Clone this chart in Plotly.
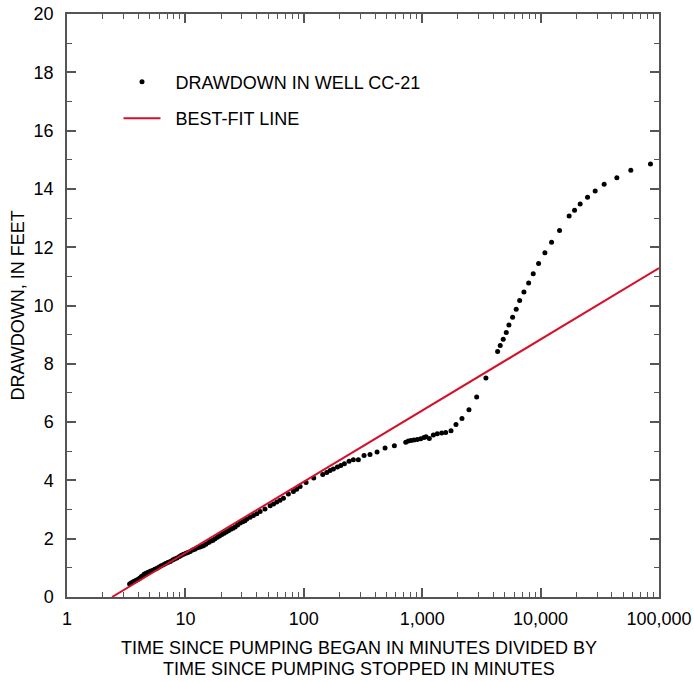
import plotly.graph_objects as go

# ---- data ----
time_ratio = [
    3.38, 3.5, 3.65, 3.8, 3.95, 4.1, 4.25, 4.38, 4.48, 4.58, 4.7, 4.85, 5.05, 5.25,
    5.5, 5.75, 6.0, 6.25, 6.53, 6.8, 7.1, 7.44, 7.8, 8.1, 8.48, 8.9, 9.25, 9.64,
    10.1, 10.5, 10.98, 11.5, 12.0, 12.5, 13.1, 13.6, 14.2, 14.9, 15.7, 16.5, 17.1,
    17.8, 18.6, 19.4, 20.3, 21.2, 22.1, 23.1, 24.2, 25.2, 26.3, 27.6, 29.0, 30.5,
    31.8, 33.0, 35.2, 37.6, 40.1, 42.8, 47.0, 52.0, 55.5, 59.2, 63.0, 67.3, 74.1,
    81.7, 87.0, 93.1,
    104.5, 121.4, 144.5, 156.3, 166.7, 177.8, 192.2, 205.3, 220.2, 241.2, 262.2,
    289.0, 322.8, 362.4, 415.6, 485.6, 582.1, 726.1, 763.8, 804.3, 852.4, 909.2,
    971.4, 1035, 1077, 1148, 1242, 1341, 1461, 1579, 1751, 1929, 2167, 2483,
    2884, 3453, 4335, 4560, 4834, 5128, 5400, 5801, 6223, 6653, 7231, 7925, 8667,
    9616, 10870, 12380, 14460, 17420, 19360, 21590, 24920, 28900, 34420, 44060,
    57810, 84720,
]
drawdown_ft = [
    0.45, 0.49, 0.53, 0.57, 0.60, 0.64, 0.70, 0.73, 0.78, 0.80, 0.82, 0.85, 0.88, 0.91,
    0.95, 0.99, 1.03, 1.07, 1.11, 1.15, 1.18, 1.22, 1.27, 1.30, 1.34, 1.39, 1.43, 1.47,
    1.50, 1.53, 1.56, 1.61, 1.64, 1.68, 1.71, 1.73, 1.76, 1.81, 1.87, 1.92, 1.95,
    2.00, 2.05, 2.09, 2.14, 2.19, 2.23, 2.27, 2.32, 2.36, 2.40, 2.47, 2.54, 2.58,
    2.62, 2.68, 2.74, 2.80, 2.86, 2.93, 3.02, 3.13, 3.19, 3.26, 3.32, 3.39, 3.53,
    3.62, 3.70, 3.79,
    3.93, 4.08, 4.20, 4.27, 4.34, 4.39, 4.46, 4.51, 4.57, 4.66, 4.71,
    4.71, 4.85, 4.89, 4.97, 5.11, 5.19, 5.31, 5.35, 5.37, 5.39, 5.40,
    5.43, 5.47, 5.50, 5.44, 5.56, 5.60, 5.63, 5.64, 5.70, 5.92, 6.12, 6.42,
    6.86, 7.51, 8.42, 8.63, 8.84, 9.07, 9.33, 9.60, 9.87, 10.17, 10.46, 10.77, 11.09,
    11.44, 11.81, 12.17, 12.57, 13.07, 13.27, 13.48, 13.71, 13.93, 14.16, 14.38,
    14.64, 14.85,
]
fit_x = [2.4, 100000]
fit_y = [0.0, 11.28]

x_major = [1, 10, 100, 1000, 10000, 100000]
x_major_text = ["1", "10", "100", "1,000", "10,000", "100,000"]
x_minor = [m * d for d in [1, 10, 100, 1000, 10000] for m in range(2, 10)]
y_major = [0, 2, 4, 6, 8, 10, 12, 14, 16, 18, 20]
y_minor = [1, 3, 5, 7, 9, 11, 13, 15, 17, 19]

FONT = "Arial, 'Liberation Sans', sans-serif"
RED = "#d4102a"
AXC = "#555555"

fig = go.Figure()
fig.add_trace(go.Scatter(
    x=time_ratio, y=drawdown_ft, mode="markers",
    name="\u00a0\u00a0DRAWDOWN IN WELL CC-21", legendgroup="a",
    marker=dict(color="black", size=5),
))
fig.add_trace(go.Scatter(
    x=fit_x, y=fit_y, mode="lines",
    name="\u00a0\u00a0BEST-FIT LINE", legendgroup="b",
    line=dict(color=RED, width=2),
))

axis_common = dict(
    showgrid=False, zeroline=False, showline=True, linecolor=AXC, linewidth=1.5,
    mirror="ticks", ticks="inside", ticklen=9, tickwidth=1.5, tickcolor=AXC,
    tickfont=dict(family=FONT, size=18, color="black"), automargin=False,
)

fig.update_xaxes(
    type="log", range=[0, 5], tickmode="array", tickvals=x_major, ticktext=x_major_text,
    ticklabelstandoff=5,
    minor=dict(tickmode="array", tickvals=x_minor, ticks="inside", ticklen=5,
               tickwidth=1.2, tickcolor=AXC),
    **axis_common,
)
fig.update_yaxes(
    range=[0, 20], tickmode="array", tickvals=y_major,
    ticklabelstandoff=8,
    minor=dict(tickmode="array", tickvals=y_minor, ticks="inside", ticklen=5,
               tickwidth=1.2, tickcolor=AXC),
    **axis_common,
)

TFONT = dict(family=FONT, size=18, color="black")
fig.add_annotation(text="TIME SINCE PUMPING BEGAN IN MINUTES DIVIDED BY",
                   xref="paper", yref="paper", x=0.4933, y=-0.0869,
                   xanchor="center", yanchor="middle", showarrow=False, font=TFONT)
fig.add_annotation(text="TIME SINCE PUMPING STOPPED IN MINUTES",
                   xref="paper", yref="paper", x=0.4933, y=-0.1229,
                   xanchor="center", yanchor="middle", showarrow=False, font=TFONT)
fig.add_annotation(text="DRAWDOWN, IN FEET", textangle=-90,
                   xref="paper", yref="paper", x=-0.0828, y=0.5,
                   xanchor="center", yanchor="middle", showarrow=False, font=TFONT)

fig.update_layout(
    width=694, height=682,
    margin=dict(l=67, r=35, t=14, b=85, autoexpand=False),
    paper_bgcolor="white", plot_bgcolor="white",
    showlegend=True,
    legend=dict(x=0.087, y=0.915, xanchor="left", yanchor="top",
                bgcolor="rgba(0,0,0,0)", traceorder="grouped", tracegroupgap=10,
                itemwidth=37,
                font=dict(family=FONT, size=18, color="black")),
)

# remove the default 8px page margin so the figure sits at the window's corner
fig.write_html("out.html", config={"displayModeBar": False},
               post_script="document.body.style.margin='0px';")
